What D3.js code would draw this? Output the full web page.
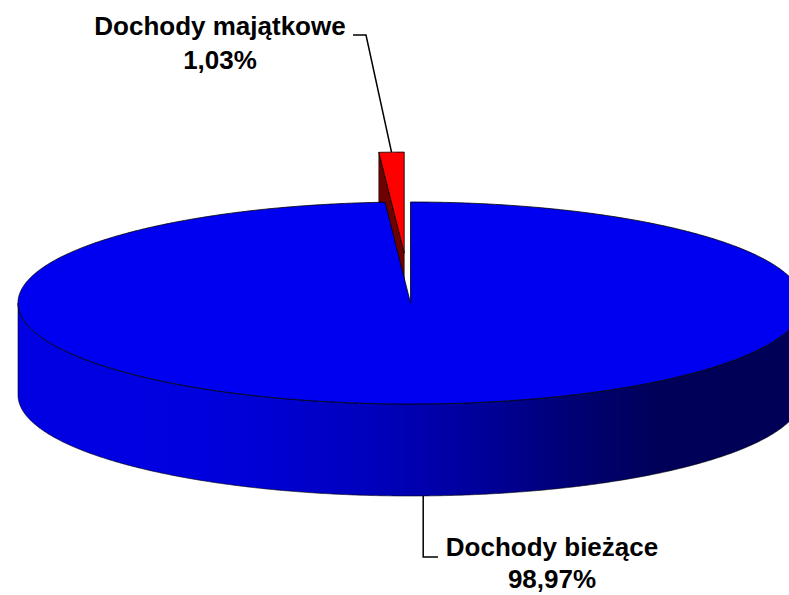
<!DOCTYPE html>
<html>
<head>
<meta charset="utf-8">
<script src="https://cdn.jsdelivr.net/npm/d3@7"></script>
<style>
  body { margin: 0; background: #fff; }
  text { font-family: Arial, "Liberation Sans", sans-serif; font-weight: bold; }
</style>
</head>
<body>
<svg id="chart" width="789" height="595"></svg>
<script>
// data
const categories = ["Dochody bieżące", "Dochody majątkowe"];
const values = [98.97, 1.03];
const valueLabels = ["98,97%", "1,03%"];
const topColors = ["#0000f0", "#ff0000"];
const faceColors = ["#0000c0", "#700000"];
const exploded = [0, 194];

var svg = d3.select("#chart"),
  width = +svg.attr("width"),
  height = +svg.attr("height");

// pie geometry (ellipse seen from above at an angle)
const cx = 410.5, cy = 303, rx = 392.5, ry = 101, depth = 92;

const pie = d3.pie().sort(null).value((d) => d);
const arcs = pie(values);

// project an angle (d3 convention: 0 at 12 o'clock, clockwise) to the screen
const px = (a, r) => rx * r * Math.sin(a);
const py = (a, r) => -ry * r * Math.cos(a);

function offsetOf(d, i) {
  const mid = (d.startAngle + d.endAngle) / 2;
  return [exploded[i] * Math.sin(mid), -exploded[i] * (ry / rx) * Math.cos(mid)];
}

function arcPoints(a0, a1, ox, oy, dz) {
  const n = Math.max(2, Math.ceil(((a1 - a0) * 180) / Math.PI) * 2);
  return d3.range(n + 1).map((k) => {
    const a = a0 + ((a1 - a0) * k) / n;
    return [cx + ox + px(a, 1), cy + oy + py(a, 1) + dz];
  });
}

const line = d3.line();

var defs = svg.append("defs");
var grad = defs
  .append("linearGradient")
  .attr("id", "sideGrad")
  .attr("gradientUnits", "userSpaceOnUse")
  .attr("x1", cx - rx)
  .attr("x2", cx + rx)
  .attr("y1", 0)
  .attr("y2", 0);
[
  [0, "#0000e2"],
  [0.23, "#0000df"],
  [0.36, "#0000cc"],
  [0.49, "#0000b4"],
  [0.61, "#000094"],
  [0.72, "#000070"],
  [0.82, "#000058"],
  [1, "#000056"]
].forEach((s) => grad.append("stop").attr("offset", s[0]).attr("stop-color", s[1]));

var gPie = svg.append("g").attr("class", "pie");

// draw the small exploded slice first (it sits behind), then the big one
const order = [1, 0];
order.forEach((i) => {
  const d = arcs[i];
  const [ox, oy] = offsetOf(d, i);
  const g = gPie.append("g");
  const c = [cx + ox, cy + oy];

  // cut faces
  [[d.startAngle, -1], [d.endAngle, 1]].forEach(([a, sgn]) => {
    if (sgn * Math.sin(a) <= 0.001) return;
    const p = [c[0] + px(a, 1), c[1] + py(a, 1)];
    g.append("path")
      .attr("d", line([c, p, [p[0], p[1] + depth], [c[0], c[1] + depth]]) + "Z")
      .attr("fill", faceColors[i])
      .attr("stroke", "#000")
      .attr("stroke-width", 0.6)
      .attr("stroke-linejoin", "round");
  });

  // outer side (front half only)
  const s0 = Math.max(d.startAngle, Math.PI / 2);
  const s1 = Math.min(d.endAngle, (3 * Math.PI) / 2);
  if (s1 > s0) {
    const topEdge = arcPoints(s0, s1, ox, oy, 0);
    const botEdge = arcPoints(s0, s1, ox, oy, depth).reverse();
    g.append("path")
      .attr("d", line(topEdge.concat(botEdge)) + "Z")
      .attr("fill", i === 0 ? "url(#sideGrad)" : faceColors[i])
      .attr("stroke", "#000")
      .attr("stroke-width", 0.6);
  }

  // top face
  const pts = [c].concat(arcPoints(d.startAngle, d.endAngle, ox, oy, 0));
  g.append("path")
    .attr("d", line(pts) + "Z")
    .attr("fill", topColors[i])
    .attr("stroke", "#000")
    .attr("stroke-width", 0.8)
    .attr("stroke-linejoin", "round");
});

// labels with leader lines
var gLab = svg.append("g").attr("class", "labels");

// small slice: label above-left
{
  const d = arcs[1];
  const [ox, oy] = offsetOf(d, 1);
  const mid = (d.startAngle + d.endAngle) / 2;
  const p = [cx + ox + px(mid, 1), cy + oy + py(mid, 1)];
  gLab.append("path")
    .attr("d", line([p, [366, 35], [353, 35]]))
    .attr("fill", "none")
    .attr("stroke", "#000")
    .attr("stroke-width", 1.5);
  const t = gLab.append("text").attr("text-anchor", "middle").style("font-size", "26px");
  t.append("tspan").attr("x", 220).attr("y", 35).text(categories[1]);
  t.append("tspan").attr("x", 220).attr("y", 69).text(valueLabels[1]);
}

// big slice: label below-right
{
  const d = arcs[0];
  const mid = (d.startAngle + d.endAngle) / 2;
  const p = [cx + px(mid, 1), cy + py(mid, 1) + depth];
  gLab.append("path")
    .attr("d", line([p, [p[0], 557], [438, 557]]))
    .attr("fill", "none")
    .attr("stroke", "#000")
    .attr("stroke-width", 1.5);
  const t = gLab.append("text").attr("text-anchor", "middle").style("font-size", "26px");
  t.append("tspan").attr("x", 552).attr("y", 556).text(categories[0]);
  t.append("tspan").attr("x", 552).attr("y", 588).text(valueLabels[0]);
}
</script>
</body>
</html>
